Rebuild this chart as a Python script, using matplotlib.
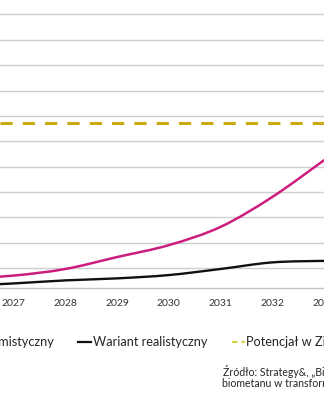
import matplotlib
matplotlib.use("Agg")
import matplotlib.pyplot as plt
import numpy as np
from matplotlib.path import Path
from matplotlib.patches import PathPatch
from matplotlib.lines import Line2D

plt.rcParams["font.family"] = ["Lato", "DejaVu Sans"]

years = [2026, 2027, 2028, 2029, 2030, 2031, 2032, 2033]
optimistic = [0.58, 0.70, 0.96, 1.43, 1.90, 2.62, 3.80, 5.25]
realistic = [0.29, 0.39, 0.51, 0.59, 0.72, 0.96, 1.22, 1.28]
potential = 6.73
tick_years = [2027, 2028, 2029, 2030, 2031, 2032, 2033]
grid_values = list(range(1, 12))

PINK = "#cc1d7f"
BLACK = "#111111"
GOLD = "#c9aa12"
GRID = "#cfcfcf"


def smooth_path(xs, ys):
    # Catmull-Rom -> cubic Bezier, like Excel's smoothed line
    xs = np.asarray(xs, float)
    ys = np.asarray(ys, float)
    pts = np.column_stack([xs, ys])
    verts = [pts[0]]
    codes = [Path.MOVETO]
    for i in range(len(pts) - 1):
        p0 = pts[i - 1] if i > 0 else pts[i]
        p1 = pts[i]
        p2 = pts[i + 1]
        p3 = pts[i + 2] if i + 2 < len(pts) else pts[i + 1]
        c1 = p1 + (p2 - p0) / 6.0
        c2 = p2 - (p3 - p1) / 6.0
        verts += [c1, c2, p2]
        codes += [Path.CURVE4] * 3
    return Path(verts, codes)


fig = plt.figure(figsize=(3.24, 4.0), dpi=100)
ax = fig.add_axes([0.0, 0.28, 1.0, 0.72])

x_left = 2027 - 14 / 53.3
x_right = x_left + 324 / 53.3
ax.set_xlim(x_left, x_right)
ax.set_ylim(0.21, 11.57)

for g in grid_values:
    ax.axhline(g, color=GRID, lw=1.0, zorder=1)

ax.axhline(potential, color=GOLD, lw=2.2, dashes=(4, 3.3), dash_capstyle="butt", zorder=3)

for vals, col, lw in [(realistic, BLACK, 1.7), (optimistic, PINK, 1.8)]:
    patch = PathPatch(smooth_path(years, vals), facecolor="none", edgecolor=col,
                      lw=lw, transform=ax.transData, zorder=4, capstyle="round")
    ax.add_patch(patch)

for s in ["left", "right", "top"]:
    ax.spines[s].set_visible(False)
ax.spines["bottom"].set_color("#c4c4c4")
ax.spines["bottom"].set_linewidth(1.0)
ax.set_yticks([])
ax.set_xticks(tick_years)
ax.set_xticklabels([str(y) for y in tick_years])
ax.tick_params(axis="x", length=0, pad=8, labelsize=7.5, colors="#333333")

handles = [
    Line2D([], [], color=PINK, lw=1.6),
    Line2D([], [], color=BLACK, lw=1.6),
    Line2D([], [], color="#d6d24a", lw=1.6, dashes=(2.5, 1.8)),
]
labels = ["Wariant optymistyczny", "Wariant realistyczny", "Potencjał w Zielonym Ładzie"]
fig.legend(handles, labels, ncol=3, loc="center left", bbox_to_anchor=(-0.315, 0.145),
           frameon=False, fontsize=9.2, handlelength=1.0, handletextpad=0.15,
           columnspacing=1.9, labelcolor="#262626")

fig.text(223 / 324, 1 - 372 / 400, "Źródło: Strategy&, „Biogaz w Polsce – rola",
         fontsize=7.6, color="#262626", va="center", ha="left")
fig.text(222 / 324, 1 - 383.5 / 400, "biometanu w transformacji energetycznej”",
         fontsize=7.6, color="#262626", va="center", ha="left")

fig.savefig("out.png", dpi=100)
